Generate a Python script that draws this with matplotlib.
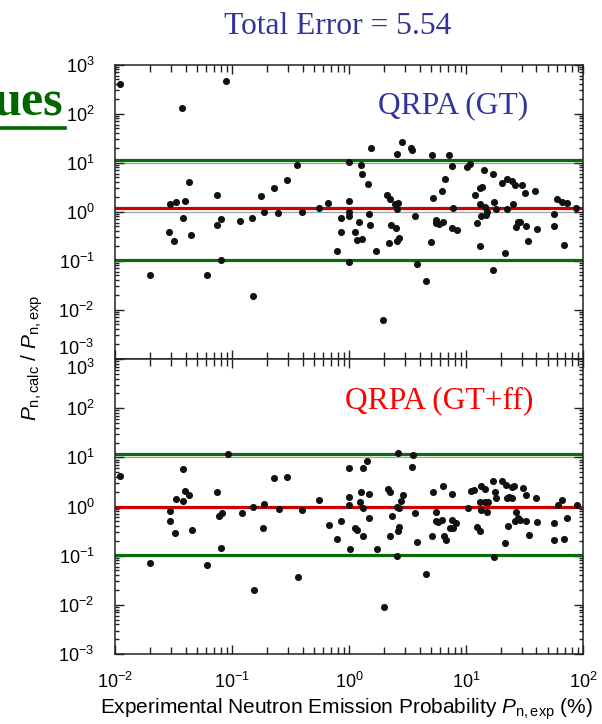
import numpy as np
import matplotlib
matplotlib.use("Agg")
import matplotlib.pyplot as plt
from matplotlib.lines import Line2D
from matplotlib.ticker import LogLocator, NullFormatter

plt.rcParams["font.family"] = ["Liberation Sans", "DejaVu Sans"]
plt.rcParams["mathtext.fontset"] = "custom"
plt.rcParams["mathtext.rm"] = "Liberation Sans"
plt.rcParams["mathtext.it"] = "Liberation Sans:italic"
plt.rcParams["mathtext.bf"] = "Liberation Sans:bold"

# decades: log10 of P_n,exp (%) and log10 of P_n,calc / P_n,exp
gt_log_pn = [
    -1.96, -1.05, -1.43, -0.45, -1.37, -0.53, -0.64, -1.13, -0.75, -1.53,
    -1.48, -1.40, -1.42, -0.73, -0.61, -0.40, -0.83, -0.93, -1.10, -1.13,
    -1.54, -1.50, -1.35, -1.10, -1.70, -1.22, -0.82,
    -0.26, -0.18, 0.00, 0.00, 0.00, 0.00, 0.00, -0.07, -0.07, -0.10,
    0.10, 0.11, 0.16, 0.19, 0.08, 0.05, 0.07, 0.11, 0.17, 0.18,
    0.23, 0.29, 0.32, 0.35, 0.39, 0.42, 0.41, 0.36, 0.40, 0.43,
    0.41, 0.34, 0.41, 0.45, 0.53, 0.54, 0.56, 0.58, 0.66, 0.71,
    0.85, 0.88, 0.82, 0.79, 0.72, 0.89, 0.74, 0.74, 0.77, 0.80,
    0.88, 0.92, 0.70, 1.01, 1.03, 1.08, 1.12, 1.14, 1.15, 1.23,
    1.12, 1.16, 1.18, 1.17, 1.13, 1.24, 1.26, 1.09, 1.12, 1.33, 1.23,
    1.31, 1.35, 1.39, 1.42, 1.48, 1.50, 1.59, 1.35, 1.40, 1.44,
    1.46, 1.43, 1.51, 1.53, 1.61, 1.78, 1.82, 1.86, 1.94, 1.75, 1.75, 1.84,
]
gt_log_ratio = [
    2.60, 2.67, 2.11, 0.95, 0.60, 0.64, 0.48, 0.34, 0.33, 0.16,
    0.19, 0.22, -0.13, -0.01, -0.03, -0.01, -0.12, -0.19, -0.15, -0.27,
    -0.42, -0.60, -0.48, -0.99, -1.29, -1.30, -1.72,
    0.08, 0.18, 1.02, 0.22, 0.00, -0.08, -1.03, -0.12, -0.41, -0.81,
    0.95, 0.76, 0.57, 1.30, -0.21, -0.41, -0.57, -0.56, -0.05, -0.27,
    -0.80, -2.22, 0.34, 0.25, 0.16, 0.17, 0.06, -0.27, -0.34, -0.53,
    -0.59, -0.64, 1.18, 1.42, 1.30, 1.25, -0.09, -1.07, -1.41, 1.15,
    1.16, 0.93, 0.66, 0.42, 0.27, 0.08, -0.16, -0.24, -0.25, -0.20,
    -0.34, -0.37, -0.61, 0.91, 0.97, 0.34, 0.48, 0.50, 0.86, 0.77,
    0.16, 0.10, 0.00, -0.07, -0.09, 0.20, 0.06, -0.23, -0.71, -0.84, -1.19,
    0.58, 0.67, 0.63, 0.54, 0.54, 0.39, 0.42, 0.05, 0.16, -0.22,
    -0.20, -0.31, -0.29, -0.59, -0.36, 0.25, 0.20, 0.17, 0.07, -0.05, -0.29, -0.68,
]
ff_log_pn = [
    -1.96, -1.42, -1.04, -1.40, -1.37, -1.48, -1.42, -1.53, -1.53, -1.49,
    -1.34, -1.13, -1.11, -1.09, -1.10, -1.70, -1.22, -0.81, -0.92, -0.82,
    -0.73, -0.64, -0.53, -0.60, -0.74, -0.44, -0.40,
    -0.26, -0.17, -0.10, -0.07, 0.00, 0.00, 0.00, 0.01, 0.05, 0.07,
    0.09, 0.10, 0.17, 0.12, 0.15, 0.12, 0.17, 0.12, 0.24, 0.30,
    0.33, 0.35, 0.42, 0.55, 0.54, 0.46, 0.44, 0.41, 0.43, 0.37,
    0.43, 0.42, 0.35, 0.41, 0.56, 0.58, 0.66, 0.72, 0.80, 0.88,
    0.74, 0.74, 0.76, 0.79, 0.71, 0.81, 0.83, 0.88, 0.91, 0.86,
    0.89, 1.02, 1.04, 1.07, 1.09, 1.12, 1.13, 1.16, 1.12, 1.16,
    1.19, 1.13, 1.18, 1.23, 1.31, 1.25, 1.26, 1.33, 1.24,
    1.34, 1.39, 1.41, 1.35, 1.39, 1.37, 1.49, 1.51, 1.43, 1.44,
    1.42, 1.46, 1.51, 1.36, 1.54, 1.60, 1.61, 1.75, 1.75, 1.79,
    1.82, 1.86, 1.84, 1.95,
]
ff_log_ratio = [
    0.63, 0.76, 1.07, 0.32, 0.23, 0.15, 0.12, -0.09, -0.29, -0.54,
    -0.48, 0.30, -0.19, -0.13, -0.84, -1.14, -1.19, -1.69, -0.13, -0.01,
    0.05, 0.57, 0.61, -0.06, -0.43, -1.43, -0.08,
    0.13, -0.38, -0.67, -0.30, 0.78, 0.20, 0.03, -0.86, -0.44, -0.48,
    0.10, 0.29, 0.25, 0.78, 0.93, -0.04, -0.24, -0.59, -0.86, -2.04,
    0.36, 0.29, 1.09, 1.05, 0.80, 0.23, 0.11, 0.00, -0.04, -0.19,
    -0.41, -0.50, -0.60, -1.01, -0.14, -0.73, -1.38, 0.30, 0.42, 0.25,
    -0.11, -0.29, -0.31, -0.27, -0.60, -0.61, -0.69, -0.27, -0.34, -0.43,
    -0.44, -0.04, 0.32, 0.34, -0.41, -0.50, 0.42, 0.36, 0.10, 0.10,
    0.10, -0.08, -0.11, 0.52, 0.52, 0.30, 0.17, -0.75, -1.03,
    0.44, 0.40, 0.42, 0.17, 0.18, 0.20, 0.37, 0.23, -0.11, -0.24,
    -0.30, -0.27, -0.29, -0.39, -0.58, 0.18, -0.31, -0.34, -0.68, 0.04,
    0.13, -0.24, -0.66, 0.03,
]

panel_names = ["QRPA (GT)", "QRPA (GT+ff)"]
panel_colors = ["#333399", "#ff0000"]
x_decades = [-2, -1, 0, 1, 2]
y_decades = [-3, -2, -1, 0, 1, 2, 3]
ref_levels = [1.0, 10.0]
# factor-of-ten band and unity line laid over each panel
gt_band = [11.4, 1.2, 0.103]
ff_band = [11.7, 0.97, 0.102]

W, H = 602, 724
fig = plt.figure(figsize=(W / 100, H / 100), dpi=100)


def fx(px):
    return px / W


def fy(py):
    return 1 - py / H


ax_top = fig.add_axes([fx(115.3), fy(358.7), fx(467.7), 294 / H])
ax_bot = fig.add_axes([fx(115.3), fy(654), fx(467.7), 295 / H])

panels = [
    (ax_top, gt_log_pn, gt_log_ratio, gt_band),
    (ax_bot, ff_log_pn, ff_log_ratio, ff_band),
]
for ax, lx, ly, band in panels:
    ax.set_xscale("log")
    ax.set_yscale("log")
    ax.set_xlim(10.0 ** x_decades[0], 10.0 ** x_decades[-1])
    ax.set_ylim(10.0 ** y_decades[0], 10.0 ** y_decades[-1])
    for lev in ref_levels:
        ax.axhline(lev, color="#a0a0a0", lw=0.9, zorder=1)
    ax.axhline(band[0], color="#0b6b0b", lw=2.3, zorder=2)
    ax.axhline(band[1], color="#cc0000", lw=2.3, zorder=2)
    ax.axhline(band[2], color="#0b6b0b", lw=2.3, zorder=2)
    ax.plot(10.0 ** np.array(lx), 10.0 ** np.array(ly), "o", ms=5.1,
            color="#111111", mec="none", zorder=3)

    ax.set_xticks([10.0 ** k for k in x_decades])
    ax.set_yticks([10.0 ** k for k in y_decades])
    ax.xaxis.set_minor_locator(LogLocator(base=10, subs=np.arange(2, 10), numticks=20))
    ax.yaxis.set_minor_locator(LogLocator(base=10, subs=np.arange(2, 10), numticks=20))
    ax.xaxis.set_minor_formatter(NullFormatter())
    ax.yaxis.set_minor_formatter(NullFormatter())
    ax.tick_params(which="both", direction="in", top=True, right=True,
                   width=1.0, color="#222222", labelsize=13)
    ax.tick_params(which="major", length=6.5)
    ax.tick_params(axis="x", which="minor", length=4.8)
    ax.tick_params(axis="y", which="minor", length=3.2)
    ax.tick_params(axis="y", pad=15)
    ax.tick_params(axis="x", pad=13)
    for side in ax.spines.values():
        side.set_linewidth(1.1)
        side.set_color("#222222")

ax_top.tick_params(labelbottom=False)
# keep the shared 10^-3 / 10^3 labels clear of each other
ax_top.yaxis.get_major_ticks()[0].label1.set_verticalalignment("bottom")
ax_bot.yaxis.get_major_ticks()[-1].label1.set_verticalalignment("top")

serif = "Liberation Serif"
fig.text(fx(338), fy(33.5), "Total Error = 5.54", ha="center", va="baseline",
         family=serif, size=22.7, color="#333399")
fig.text(fx(378), fy(113.5), panel_names[0], ha="left", va="baseline",
         family=serif, size=22.7, color=panel_colors[0])
fig.text(fx(345), fy(408), panel_names[1], ha="left", va="baseline",
         family=serif, size=22.7, color=panel_colors[1])

# slide heading fragment with underline
fig.text(fx(63), fy(115), "ues", ha="right", va="baseline", family=serif,
         weight="bold", size=36, color="#006600")
fig.add_artist(Line2D([0, fx(65)], [fy(128), fy(128)], lw=2.6, color="#006600"))

fig.text(fx(32), fy(358), r"$P_{\mathrm{n,calc}}$ / $P_{\mathrm{n,exp}}$",
         rotation=90, ha="center", va="center", size=15)
fig.text(fx(100), fy(714),
         r"Experimental Neutron Emission Probability $P_{\mathrm{n,exp}}$ (%)",
         ha="left", va="baseline", size=15)

fig.savefig("out.png", dpi=100)
